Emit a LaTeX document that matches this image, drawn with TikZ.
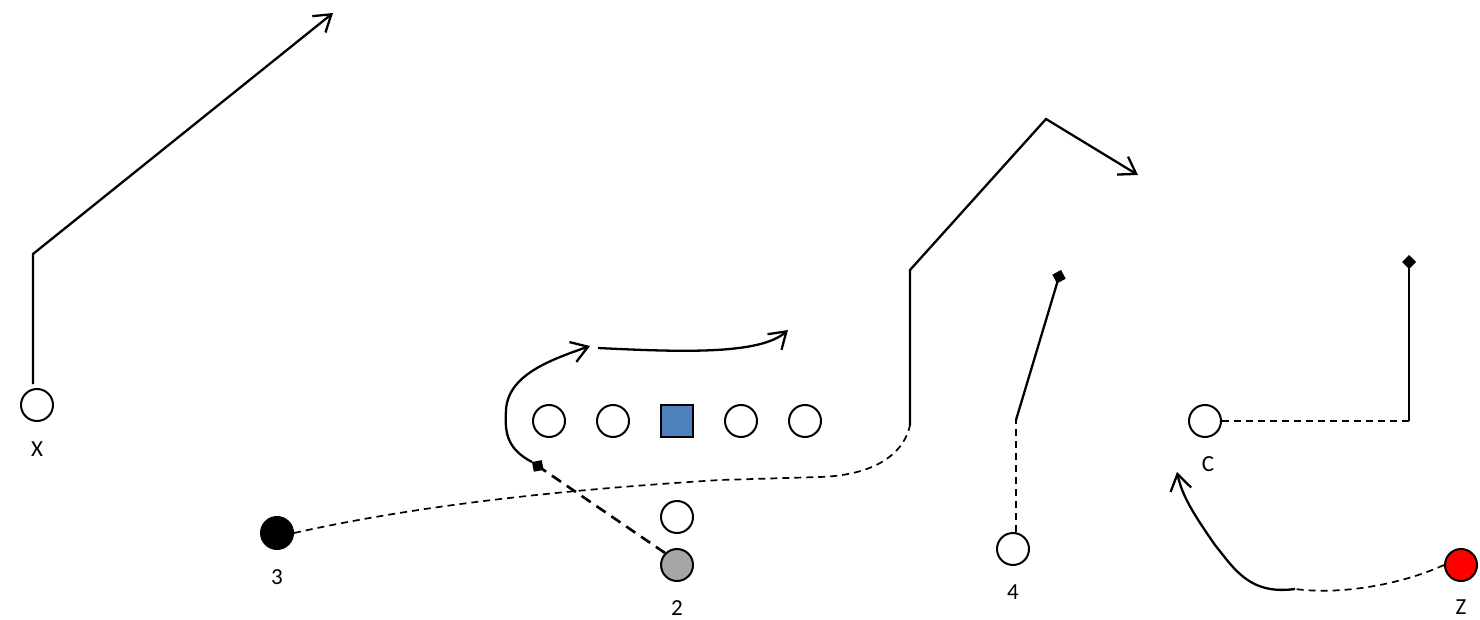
\documentclass[tikz,border=0pt]{standalone}
\usepackage{fontspec}
\setmainfont{Carlito}
\usetikzlibrary{arrows.meta}
\tikzset{
  player/.style={circle,draw,line width=2pt,minimum size=32pt,inner sep=0pt,fill=white},
  center/.style={rectangle,draw,line width=2pt,minimum size=32pt,inner sep=0pt,fill={rgb,255:red,79;green,129;blue,189}},
  lbl/.style={font=\fontsize{23}{27}\selectfont,inner sep=0pt},
  route/.style={line width=2.3pt,line join=miter},
  motion/.style={line width=1.7pt,dash pattern=on 7pt off 5pt},
  block/.style={line width=2.6pt,dash pattern=on 11pt off 7pt},
  open/.style={-{Straight Barb[length=16pt,width=21pt,line width=2.3pt]}},
  stop/.style={-{Turned Square[length=14pt,width=14pt]}}
}
\begin{document}
\begin{tikzpicture}[x=1pt,y=-1pt]
\useasboundingbox (0,0) rectangle (1480,620);
% players
\node[player] (X) at (37,405) {};
\node[lbl] at (37,449) {X};
\node[player] (L1) at (549,421) {};
\node[player] (L2) at (613,421) {};
\node[center] (Cn) at (677,421) {};
\node[player] (L4) at (741,421) {};
\node[player] (L5) at (805,421) {};
\node[player] (Q) at (677,517) {};
\node[player,fill={rgb,255:red,166;green,166;blue,166}] (P2) at (677,565) {};
\node[lbl] at (677,608) {2};
\node[player,fill=black] (P3) at (277,533) {};
\node[lbl] at (277,577) {3};
\node[player] (P4) at (1013,549) {};
\node[lbl] at (1013,592) {4};
\node[player] (C) at (1205,421) {};
\node[lbl] at (1208,464) {C};
\node[player,fill=red] (Z) at (1461,565) {};
\node[lbl] at (1461,607) {Z};
% coordinates
\coordinate (x1) at (33,254);
\coordinate (x2) at (333,13);
\coordinate (t0) at (910,425);
\coordinate (t1) at (910,270);
\coordinate (t2) at (1046,119);
\coordinate (t3) at (1138,175);
\coordinate (d2) at (532,462);
\coordinate (a1) at (590,346);
\coordinate (b0) at (598,348);
\coordinate (b1) at (788,330);
\coordinate (f0) at (1016,420);
\coordinate (f1) at (1061,270);
\coordinate (c0) at (1409,421);
\coordinate (c1) at (1409,255);
\coordinate (z0) at (1295,589);
\coordinate (z1) at (1177,472);
% X route
\draw[route,open] (X.north) ++(-4,-4) coordinate (xs) -- (x1) -- (x2);
% 3 motion + route
\draw[motion] (P3.east) .. controls (420,505) and (560,490) .. (720,480) -- (820,477) .. controls (880,475) and (905,450) .. (t0);
\draw[route,open] (t0) -- (t1) -- (t2) -- (t3);
% 2 route
\draw[block,stop] (P2.north west) -- (d2);
\draw[route,open] (d2) .. controls (505,448) and (505,430) .. (506,410) .. controls (508,375) and (550,360) .. (a1);
\draw[route,open] (b0) .. controls (680,352) and (760,355) .. (b1);
% 4 route
\draw[motion] (P4.north) ++(3,0) -- (f0);
\draw[route,stop] (f0) -- (f1);
% C route
\draw[motion] (C.east) -- (c0);
\draw[route,stop] (c0) -- (c1);
% Z route
\draw[motion] (Z.west) .. controls (1400,585) and (1340,595) .. (z0);
\draw[route,open] (z0) .. controls (1250,595) and (1235,570) .. (1215,545) .. controls (1192,512) and (1182,495) .. (z1);
\end{tikzpicture}
\end{document}
